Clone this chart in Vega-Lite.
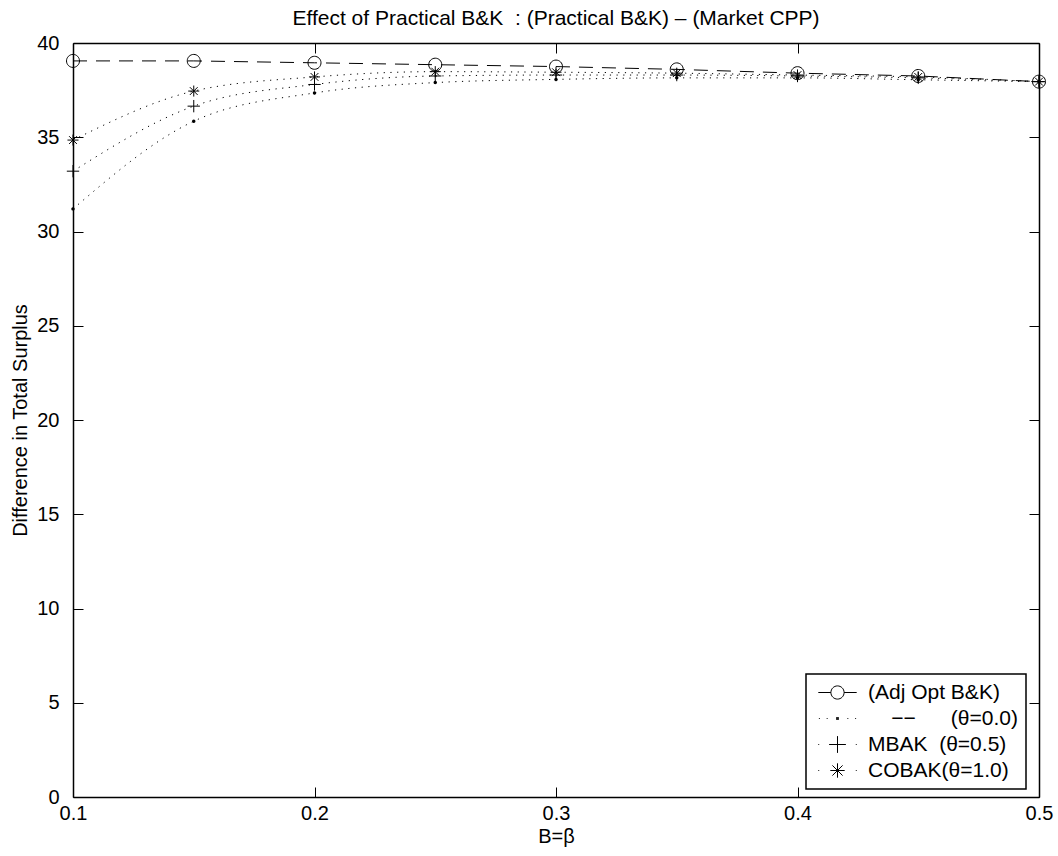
{
  "$schema": "https://vega.github.io/schema/vega-lite/v6.json",
  "width": 966,
  "height": 754,
  "autosize": "none",
  "padding": {"left": 73, "top": 43, "right": 19, "bottom": 59},
  "background": "white",
  "title": {
    "text": "Effect of Practical B&K \u00a0: (Practical B&K) – (Market CPP)",
    "font": "Liberation Sans",
    "fontSize": 21,
    "fontWeight": "normal",
    "color": "black",
    "anchor": "middle",
    "offset": 4
  },
  "config": {
    "view": {"stroke": null},
    "legend": {"strokeWidth": 1.5},
    "axis": {
      "labelFont": "Liberation Sans",
      "labelFontSize": 20,
      "labelColor": "black",
      "titleFont": "Liberation Sans",
      "titleFontSize": 20,
      "titleFontWeight": "normal",
      "titleColor": "black",
      "domainColor": "black",
      "domainWidth": 1.5,
      "tickColor": "black",
      "tickWidth": 1,
      "grid": false,
      "labelFlush": false
    }
  },
  "data": {
    "values": [
      {"B": 0.10, "series": "(Adj Opt B&K)", "value": 39.05},
      {"B": 0.15, "series": "(Adj Opt B&K)", "value": 39.05},
      {"B": 0.20, "series": "(Adj Opt B&K)", "value": 38.95},
      {"B": 0.25, "series": "(Adj Opt B&K)", "value": 38.85},
      {"B": 0.30, "series": "(Adj Opt B&K)", "value": 38.75},
      {"B": 0.35, "series": "(Adj Opt B&K)", "value": 38.6},
      {"B": 0.40, "series": "(Adj Opt B&K)", "value": 38.4},
      {"B": 0.45, "series": "(Adj Opt B&K)", "value": 38.25},
      {"B": 0.50, "series": "(Adj Opt B&K)", "value": 37.95},
      {"B": 0.10, "series": "\u200b\u00a0\u00a0\u00a0\u00a0−−\u00a0\u00a0\u00a0\u00a0\u00a0\u00a0(θ=0.0)", "value": 31.2},
      {"B": 0.15, "series": "\u200b\u00a0\u00a0\u00a0\u00a0−−\u00a0\u00a0\u00a0\u00a0\u00a0\u00a0(θ=0.0)", "value": 35.85},
      {"B": 0.20, "series": "\u200b\u00a0\u00a0\u00a0\u00a0−−\u00a0\u00a0\u00a0\u00a0\u00a0\u00a0(θ=0.0)", "value": 37.35},
      {"B": 0.25, "series": "\u200b\u00a0\u00a0\u00a0\u00a0−−\u00a0\u00a0\u00a0\u00a0\u00a0\u00a0(θ=0.0)", "value": 37.9},
      {"B": 0.30, "series": "\u200b\u00a0\u00a0\u00a0\u00a0−−\u00a0\u00a0\u00a0\u00a0\u00a0\u00a0(θ=0.0)", "value": 38.07},
      {"B": 0.35, "series": "\u200b\u00a0\u00a0\u00a0\u00a0−−\u00a0\u00a0\u00a0\u00a0\u00a0\u00a0(θ=0.0)", "value": 38.15},
      {"B": 0.40, "series": "\u200b\u00a0\u00a0\u00a0\u00a0−−\u00a0\u00a0\u00a0\u00a0\u00a0\u00a0(θ=0.0)", "value": 38.15},
      {"B": 0.45, "series": "\u200b\u00a0\u00a0\u00a0\u00a0−−\u00a0\u00a0\u00a0\u00a0\u00a0\u00a0(θ=0.0)", "value": 38.05},
      {"B": 0.50, "series": "\u200b\u00a0\u00a0\u00a0\u00a0−−\u00a0\u00a0\u00a0\u00a0\u00a0\u00a0(θ=0.0)", "value": 37.95},
      {"B": 0.10, "series": "MBAK\u00a0\u00a0(θ=0.5)", "value": 33.2},
      {"B": 0.15, "series": "MBAK\u00a0\u00a0(θ=0.5)", "value": 36.65},
      {"B": 0.20, "series": "MBAK\u00a0\u00a0(θ=0.5)", "value": 37.8},
      {"B": 0.25, "series": "MBAK\u00a0\u00a0(θ=0.5)", "value": 38.25},
      {"B": 0.30, "series": "MBAK\u00a0\u00a0(θ=0.5)", "value": 38.3},
      {"B": 0.35, "series": "MBAK\u00a0\u00a0(θ=0.5)", "value": 38.3},
      {"B": 0.40, "series": "MBAK\u00a0\u00a0(θ=0.5)", "value": 38.25},
      {"B": 0.45, "series": "MBAK\u00a0\u00a0(θ=0.5)", "value": 38.15},
      {"B": 0.50, "series": "MBAK\u00a0\u00a0(θ=0.5)", "value": 37.95},
      {"B": 0.10, "series": "COBAK(θ=1.0)\u00a0\u200b", "value": 34.85},
      {"B": 0.15, "series": "COBAK(θ=1.0)\u00a0\u200b", "value": 37.45},
      {"B": 0.20, "series": "COBAK(θ=1.0)\u00a0\u200b", "value": 38.2},
      {"B": 0.25, "series": "COBAK(θ=1.0)\u00a0\u200b", "value": 38.48},
      {"B": 0.30, "series": "COBAK(θ=1.0)\u00a0\u200b", "value": 38.45},
      {"B": 0.35, "series": "COBAK(θ=1.0)\u00a0\u200b", "value": 38.4},
      {"B": 0.40, "series": "COBAK(θ=1.0)\u00a0\u200b", "value": 38.3},
      {"B": 0.45, "series": "COBAK(θ=1.0)\u00a0\u200b", "value": 38.2},
      {"B": 0.50, "series": "COBAK(θ=1.0)\u00a0\u200b", "value": 37.95}
    ]
  },
  "layer": [
    {
      "transform": [{"filter": "indexof(datum.series, 'Adj') >= 0"}],
      "mark": {"type": "line", "color": "black", "strokeWidth": 1, "strokeDash": [14, 9]},
      "encoding": {
        "x": {
          "field": "B", "type": "quantitative",
          "scale": {"domain": [0.1, 0.5], "nice": false, "zero": false},
          "axis": {
            "orient": "bottom", "values": [0.1, 0.2, 0.3, 0.4, 0.5], "format": ".1f",
            "tickSize": -10, "labelPadding": 16, "title": "B=β", "titlePadding": 3
          }
        },
        "y": {
          "field": "value", "type": "quantitative",
          "scale": {"domain": [0, 40], "nice": false, "zero": false},
          "axis": {
            "orient": "left", "values": [0, 5, 10, 15, 20, 25, 30, 35, 40],
            "tickSize": -10, "labelPadding": 24, "title": "Difference in Total Surplus", "titlePadding": 6
          }
        }
      }
    },
    {
      "transform": [{"filter": "indexof(datum.series, 'Adj') < 0"}],
      "mark": {"type": "line", "color": "black", "strokeWidth": 1, "strokeDash": [1.2, 5.5], "interpolate": "monotone"},
      "encoding": {
        "x": {"field": "B", "type": "quantitative", "axis": null},
        "y": {"field": "value", "type": "quantitative", "axis": null},
        "detail": {"field": "series"}
      }
    },
    {
      "mark": {"type": "point", "filled": false, "color": "black", "strokeWidth": 1, "opacity": 1, "size": 169},
      "encoding": {
        "x": {"field": "B", "type": "quantitative", "axis": null},
        "y": {"field": "value", "type": "quantitative", "axis": null},
        "shape": {
          "field": "series", "type": "nominal",
          "scale": {
            "domain": ["(Adj Opt B&K)", "\u200b\u00a0\u00a0\u00a0\u00a0−−\u00a0\u00a0\u00a0\u00a0\u00a0\u00a0(θ=0.0)", "MBAK\u00a0\u00a0(θ=0.5)", "COBAK(θ=1.0)\u00a0\u200b"],
            "range": [
              "M1,0A1,1,0,1,1,-1,0A1,1,0,1,1,1,0",
              "M0.12,0A0.12,0.12,0,1,1,-0.12,0A0.12,0.12,0,1,1,0.12,0",
              "M-0.95,0L0.95,0M0,-0.95L0,0.95",
              "M-0.85,0L0.85,0M0,-0.85L0,0.85M-0.6,-0.6L0.6,0.6M-0.6,0.6L0.6,-0.6"
            ]
          },
          "legend": null
        }
      }
    },
    {
      "transform": [{"filter": "indexof(datum.series, '0.0') >= 0"}],
      "mark": {"type": "circle", "color": "black", "size": 12, "opacity": 1},
      "encoding": {
        "x": {"field": "B", "type": "quantitative", "axis": null},
        "y": {"field": "value", "type": "quantitative", "axis": null}
      }
    },
    {
      "mark": {"type": "point", "filled": false, "color": "black", "strokeWidth": 1, "opacity": 0, "size": 144},
      "encoding": {
        "x": {"field": "B", "type": "quantitative", "axis": null},
        "y": {"field": "value", "type": "quantitative", "axis": null},
        "shape": {
          "field": "series", "type": "nominal",
          "scale": {
            "domain": ["(Adj Opt B&K)", "\u200b\u00a0\u00a0\u00a0\u00a0−−\u00a0\u00a0\u00a0\u00a0\u00a0\u00a0(θ=0.0)", "MBAK\u00a0\u00a0(θ=0.5)", "COBAK(θ=1.0)\u00a0\u200b"],
            "range": [
              "M-3.2,0L-1.1,0M1.1,0L3.2,0M1.1,0A1.1,1.1,0,1,1,-1.1,0A1.1,1.1,0,1,1,1.1,0",
              "M-3.1,0L-2.95,0M-1.8,0L-1.65,0M1.65,0L1.8,0M2.95,0L3.1,0M-0.22,-0.1L0.22,-0.1M-0.22,0.1L0.22,0.1M-0.1,-0.22L-0.1,0.22M0.1,-0.22L0.1,0.22",
              "M-3.2,0L-3.05,0M3.05,0L3.2,0M-1.4,0L1.4,0M0,-1.4L0,1.4",
              "M-3.2,0L-3.05,0M3.05,0L3.2,0M-1.2,0L1.2,0M0,-1.2L0,1.2M-0.85,-0.85L0.85,0.85M-0.85,0.85L0.85,-0.85"
            ]
          },
          "legend": {
            "title": null,
            "orient": "none",
            "legendX": 733,
            "legendY": 631,
            "padding": 8,
            "strokeColor": "black",
            "fillColor": "white",
            "labelFont": "Liberation Sans",
            "labelFontSize": 21,
            "labelColor": "black",
            "rowPadding": 4,
            "symbolSize": 144,
            "symbolOffset": 13,
            "labelOffset": 20,
            "symbolOpacity": 1,
            "symbolStrokeColor": "black",
            "symbolStrokeWidth": 1,
            "symbolFillColor": "transparent"
          }
        }
      }
    },
    {
      "mark": {"type": "point", "opacity": 0},
      "encoding": {
        "x": {
          "field": "B", "type": "quantitative",
          "axis": {"orient": "top", "values": [0.1, 0.2, 0.3, 0.4, 0.5], "labels": false, "tickSize": -10, "title": null}
        },
        "y": {
          "field": "value", "type": "quantitative",
          "axis": {"orient": "right", "values": [0, 5, 10, 15, 20, 25, 30, 35, 40], "labels": false, "tickSize": -10, "title": null}
        }
      }
    }
  ],
  "resolve": {"scale": {"shape": "independent"}, "axis": {"x": "independent", "y": "independent"}}
}
